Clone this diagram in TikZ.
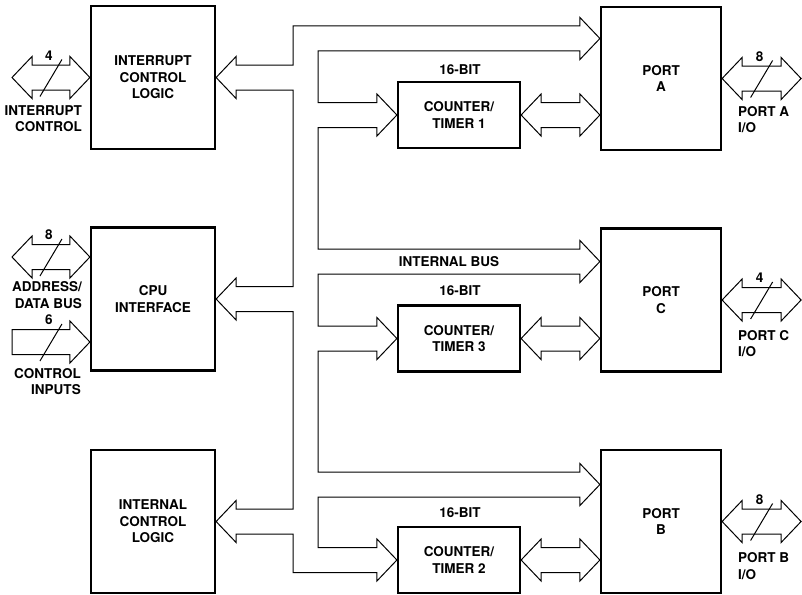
\documentclass[tikz,border=0pt]{standalone}
\usepackage{fontspec}
\setmainfont{TeX Gyre Heros}
\usetikzlibrary{calc}

% hollow bus arrows: right head at #1, left head at #1
\newcommand\headR[1]{-- ($(#1)+(-20,-12.5)$) -- ++(0,-8.5) -- (#1) -- ++(-20,21) -- ++(0,-8.5)}
\newcommand\headL[1]{-- ($(#1)+(20,12.5)$) -- ++(0,8.5) -- (#1) -- ++(20,-21) -- ++(0,8.5)}
\newcommand\dblarrow[2]{\draw[bus] (#1) -- ++(20,-21) -- ++(0,8.5) \headR{#2} -- ($(#1)+(20,12.5)$) -- ++(0,8.5) -- cycle;}
\newcommand\sglarrow[2]{\draw[bus] ($(#1)+(0,-12.5)$) \headR{#2} -- ($(#1)+(0,12.5)$) -- cycle;}
\newcommand\buswidth[4]{%
  \coordinate (mid) at ($(#1)!0.5!(#2)$);
  \draw[bus] ($(mid)+(-11,19)$) -- ($(mid)+(11,-18)$);
  \node[lbl] (#4) at ($(mid)+(-2,-22)$) {#3};}

\begin{document}
\begin{tikzpicture}[x=1pt,y=-1pt,
  font=\fontsize{13.5}{16.5}\selectfont\bfseries,
  box/.style={draw,line width=2.2pt,inner sep=0,align=center},
  unit/.style={box,minimum width=124pt,minimum height=143pt},
  port/.style={box,minimum width=120pt,minimum height=143pt},
  ctr/.style={box,minimum width=122pt,minimum height=66pt},
  bus/.style={line width=1pt,line join=miter},
  lbl/.style={inner sep=0}]
  \useasboundingbox (0,0) rectangle (802,594);

  % blocks
  \node[unit] (icl) at (153,77.5) {INTERRUPT\\CONTROL\\LOGIC};
  \node[unit] (cpu) at (153,299) {CPU\\INTERFACE};
  \node[unit] (intl) at (153,521.5) {INTERNAL\\CONTROL\\LOGIC};
  \node[port] (pa) at (661,78.5) {PORT\\A};
  \node[port] (pc) at (661,300) {PORT\\C};
  \node[port] (pb) at (661,521.5) {PORT\\B};
  \node[ctr] (ct1) at (459,115) {COUNTER/\\TIMER 1};
  \node[ctr] (ct3) at (459,338.5) {COUNTER/\\TIMER 3};
  \node[ctr] (ct2) at (459,560) {COUNTER/\\TIMER 2};
  \node[lbl] (bit1) at (460,70) {16-BIT};
  \node[lbl] (bit3) at (460,291) {16-BIT};
  \node[lbl] (bit2) at (460,513) {16-BIT};

  % internal bus
  \coordinate (outer) at (293,0);
  \coordinate (inner) at (318,0);
  \coordinate (pa-in) at ($(pa.west)+(0,-40)$);
  \coordinate (pc-in) at ($(pc.west)+(0,-38.5)$);
  \coordinate (pb-in) at ($(pb.west)+(0,-37)$);
  \draw[bus] (icl.east) -- ++(20,-21) -- ++(0,8.5)
    -| ($(outer |- pa-in)+(0,-12.5)$) \headR{pa-in}
    -| ($(inner |- ct1.west)+(0,-12.5)$) \headR{ct1.west}
    -| ($(inner |- pc-in)+(0,-12.5)$) \headR{pc-in}
    -| ($(inner |- ct3.west)+(0,-12.5)$) \headR{ct3.west}
    -| ($(inner |- pb-in)+(0,-12.5)$) \headR{pb-in}
    -| ($(inner |- ct2.west)+(0,-12.5)$) \headR{ct2.west}
    -| ($(outer |- intl.east)+(0,12.5)$) \headL{intl.east}
    -| ($(outer |- cpu.east)+(0,12.5)$) \headL{cpu.east}
    -| ($(outer |- icl.east)+(0,12.5)$)
    -- ($(icl.east)+(20,12.5)$) -- ++(0,8.5) -- cycle;
  \node[lbl] (ibus) at (449,262) {INTERNAL BUS};

  % counters to ports
  \coordinate (pa-ct) at (pa.west |- ct1.east);
  \coordinate (pc-ct) at (pc.west |- ct3.east);
  \coordinate (pb-ct) at (pb.west |- ct2.east);
  \dblarrow{ct1.east}{pa-ct}
  \dblarrow{ct3.east}{pc-ct}
  \dblarrow{ct2.east}{pb-ct}

  % outside lines, left
  \coordinate (int-io) at (12,77.5);
  \coordinate (ad-io) at (12,257);
  \coordinate (ctl-in) at (12,342);
  \coordinate (cpu-ad) at (cpu.west |- ad-io);
  \coordinate (cpu-ctl) at (cpu.west |- ctl-in);
  \dblarrow{int-io}{icl.west}
  \buswidth{int-io}{icl.west}{4}{w-int}
  \dblarrow{ad-io}{cpu-ad}
  \buswidth{ad-io}{cpu-ad}{8}{w-ad}
  \sglarrow{ctl-in}{cpu-ctl}
  \buswidth{ctl-in}{cpu-ctl}{6}{w-ctl}
  \node[lbl,anchor=east,align=right] (t-int) at (82,118.5) {INTERRUPT\\CONTROL};
  \node[lbl,anchor=east,align=right] (t-ad) at (82,295) {ADDRESS/\\DATA BUS};
  \node[lbl,anchor=east,align=right] (t-ctl) at (81,381.5) {CONTROL\\INPUTS};

  % outside lines, right
  \coordinate (pa-io) at ($(pa.east)+(79,0)$);
  \coordinate (pc-io) at ($(pc.east)+(79,0)$);
  \coordinate (pb-io) at ($(pb.east)+(79,0)$);
  \dblarrow{pa.east}{pa-io}
  \buswidth{pa.east}{pa-io}{8}{w-pa}
  \dblarrow{pc.east}{pc-io}
  \buswidth{pc.east}{pc-io}{4}{w-pc}
  \dblarrow{pb.east}{pb-io}
  \buswidth{pb.east}{pb-io}{8}{w-pb}
  \node[lbl,anchor=west,align=left] (t-pa) at (738,119.5) {PORT A\\I/O};
  \node[lbl,anchor=west,align=left] (t-pc) at (738,343.5) {PORT C\\I/O};
  \node[lbl,anchor=west,align=left] (t-pb) at (738,566) {PORT B\\I/O};
\end{tikzpicture}
\end{document}
